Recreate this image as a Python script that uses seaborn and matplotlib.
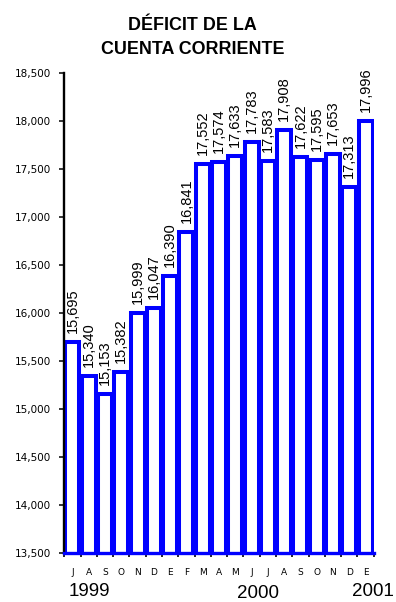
import matplotlib
matplotlib.use("Agg")
import matplotlib.pyplot as plt
import numpy as np
import pandas as pd
import seaborn as sns

# Monthly current-account deficit, Jul 1999 - Jan 2001
months = ["J", "A", "S", "O", "N", "D", "E", "F", "M", "A",
          "M", "J", "J", "A", "S", "O", "N", "D", "E"]
deficit = [15695, 15340, 15153, 15382, 15999, 16047, 16390, 16841, 17552, 17574,
           17633, 17783, 17583, 17908, 17622, 17595, 17653, 17313, 17996]
years = ["1999", "2000", "2001"]
title_lines = ["DÉFICIT DE LA", "CUENTA CORRIENTE"]

BLUE = "#0000ff"

sns.set_theme(style="white")
plt.rcParams["font.family"] = ["Liberation Sans", "DejaVu Sans"]
plt.rcParams["text.color"] = "black"
plt.rcParams["xtick.color"] = "black"
plt.rcParams["ytick.color"] = "black"

W, H = 396, 602
fig = plt.figure(figsize=(W / 100, H / 100), dpi=100)
ax = fig.add_axes([64.3 / W, 1 - 553 / H, 309.4 / W, 480 / H])

df = pd.DataFrame({"pos": range(len(deficit)), "deficit": deficit})
sns.barplot(data=df, x="pos", y="deficit", ax=ax, width=0.86, color="white",
            saturation=1, edgecolor=BLUE, linewidth=2.9, errorbar=None)

ax.set_ylim(13500, 18500)
ax.set_xlim(-0.5, len(deficit) - 0.5)
ax.set_xlabel("")
ax.set_ylabel("")

# y axis: thousands with comma separator
yt = np.arange(13500, 18501, 500)
ax.set_yticks(yt)
ax.set_yticklabels([f"{v:,}" for v in yt], fontfamily="DejaVu Sans", fontsize=7.5)
ax.tick_params(axis="y", left=True, direction="out", length=3.5, width=1.1, pad=6)

# x axis: ticks between months, letters centred under each bar
ax.set_xticks(np.arange(-0.5, len(deficit), 1.0))
ax.set_xticklabels([])
ax.set_xticks(range(len(deficit)), minor=True)
ax.set_xticklabels(months, minor=True, fontfamily="DejaVu Sans", fontsize=6.5)
ax.tick_params(axis="x", which="major", bottom=True, direction="out",
               length=3, width=1.2)
ax.tick_params(axis="x", which="minor", bottom=True, length=0, pad=10.5,
               labelbottom=True)

for side in ("top", "right"):
    ax.spines[side].set_visible(False)
ax.spines["left"].set_color("black")
ax.spines["left"].set_linewidth(1.7)
ax.spines["bottom"].set_color(BLUE)
ax.spines["bottom"].set_linewidth(2.4)

# value labels above each bar
for p in ax.patches:
    v = p.get_height()
    ax.annotate(f"{v:,.0f}", xy=(p.get_x() + p.get_width() / 2, v),
                xytext=(0, 6.5), textcoords="offset points", rotation=90,
                ha="center", va="bottom", fontsize=10.5)

# title
fig.text(192.5 / W, 1 - 30 / H, title_lines[0], ha="center", va="baseline",
         fontsize=12.9, fontweight="bold")
fig.text(192.5 / W, 1 - 54.3 / H, title_lines[1], ha="center", va="baseline",
         fontsize=12.9, fontweight="bold")

# year markers under the month letters
for label, xc, yb in zip(years, (89, 258, 373), (595.5, 598.0, 595.5)):
    fig.text(xc / W, 1 - yb / H, label, ha="center", va="baseline", fontsize=13.5)

fig.savefig("out.png", dpi=100)
